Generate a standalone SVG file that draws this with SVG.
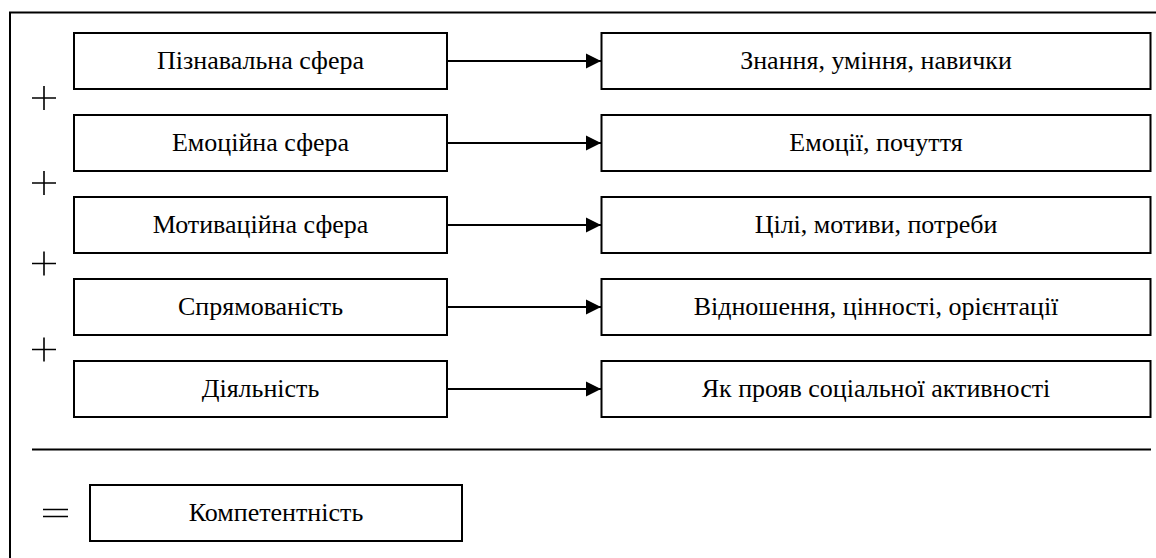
<svg xmlns="http://www.w3.org/2000/svg" width="1156" height="558" viewBox="0 0 1156 558">
<style>
.box{fill:#fff;stroke:#000;stroke-width:2}
.label{font-size:26px;fill:#000;text-anchor:middle}
.sym{stroke:#000;stroke-width:1.6;fill:none}
.conn{stroke:#000;stroke-width:2;fill:none}
</style>
<defs>
<marker id="ah" markerWidth="16" markerHeight="16" refX="15" refY="8" orient="auto" markerUnits="userSpaceOnUse">
<path d="M0,0.5 L15,8 L0,15.5 Z" fill="#000"/>
</marker>
</defs>
<rect width="1156" height="558" fill="#fff"/>
<rect x="10" y="12.5" width="1160" height="580" fill="none" stroke="#000" stroke-width="2"/>

<g font-family="'Liberation Serif', 'Times New Roman', serif">
<g id="left1"><rect class="box" x="74" y="33" width="373" height="56"/><text class="label" x="260.5" y="69">Пізнавальна сфера</text></g>
<g id="left2"><rect class="box" x="74" y="115" width="373" height="56"/><text class="label" x="260.5" y="151">Емоційна сфера</text></g>
<g id="left3"><rect class="box" x="74" y="197" width="373" height="56"/><text class="label" x="260.5" y="233">Мотиваційна сфера</text></g>
<g id="left4"><rect class="box" x="74" y="279" width="373" height="56"/><text class="label" x="260.5" y="315">Спрямованість</text></g>
<g id="left5"><rect class="box" x="74" y="361" width="373" height="56"/><text class="label" x="260.5" y="397">Діяльність</text></g>

<g id="right1"><rect class="box" x="601.5" y="33" width="549" height="56"/><text class="label" x="876" y="69">Знання, уміння, навички</text></g>
<g id="right2"><rect class="box" x="601.5" y="115" width="549" height="56"/><text class="label" x="876" y="151">Емоції, почуття</text></g>
<g id="right3"><rect class="box" x="601.5" y="197" width="549" height="56"/><text class="label" x="876" y="233">Цілі, мотиви, потреби</text></g>
<g id="right4"><rect class="box" x="601.5" y="279" width="549" height="56"/><text class="label" x="876" y="315">Відношення, цінності, орієнтації</text></g>
<g id="right5"><rect class="box" x="601.5" y="361" width="549" height="56"/><text class="label" x="876" y="397">Як прояв соціальної активності</text></g>

<g id="result"><rect class="box" x="90" y="485" width="372" height="56"/><text class="label" x="276" y="521">Компетентність</text></g>
</g>

<g id="connectors">
<line class="conn" x1="447" y1="61" x2="601" y2="61" marker-end="url(#ah)"/>
<line class="conn" x1="447" y1="143" x2="601" y2="143" marker-end="url(#ah)"/>
<line class="conn" x1="447" y1="225" x2="601" y2="225" marker-end="url(#ah)"/>
<line class="conn" x1="447" y1="307" x2="601" y2="307" marker-end="url(#ah)"/>
<line class="conn" x1="447" y1="389" x2="601" y2="389" marker-end="url(#ah)"/>
</g>

<g id="symbols">
<path class="sym" d="M32,98 H56 M44,86 V110"/>
<path class="sym" d="M32,183 H56 M44,171 V195"/>
<path class="sym" d="M32,263.5 H56 M44,251.5 V275.5"/>
<path class="sym" d="M32,349.5 H56 M44,337.5 V361.5"/>
<path class="sym" d="M43,509.5 H68 M43,516.5 H68"/>
<line x1="32" y1="449.5" x2="1151" y2="449.5" stroke="#000" stroke-width="2"/>
</g>
</svg>
